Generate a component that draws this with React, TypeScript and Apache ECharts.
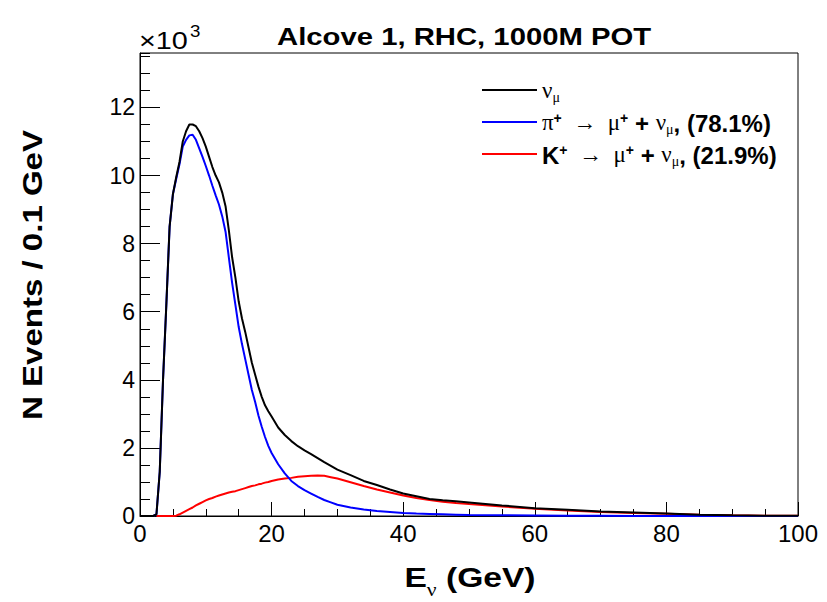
import React, { useEffect, useRef } from 'react';
import * as echarts from 'echarts';

// Neutrino energy (GeV), sample points
const energyGeV = [
  0, 1, 2, 2.5, 3, 3.5, 4, 4.5, 5, 5.5, 6, 6.5, 7, 7.5, 8, 8.5, 9, 9.5, 10, 10.5,
  11, 11.5, 12, 12.5, 13, 13.5, 14, 14.5, 15, 15.5, 16, 16.5, 17, 17.5, 18, 18.5,
  19, 19.5, 20, 21, 22, 23, 24, 25, 26, 27, 28, 29, 30, 32, 34, 36, 38, 40, 42, 44,
  46, 48, 50, 55, 60, 65, 70, 75, 80, 85, 90, 95, 100,
];

// N events / 0.1 GeV, in units of 10^3
const nuMuTotal = [
  0, 0, 0, 0.05, 1.3, 4.0, 6.2, 8.5, 9.45, 9.95, 10.4, 11.0, 11.3, 11.5, 11.5, 11.45, 11.3, 11.1, 10.85, 10.55,
  10.25, 10.0, 9.8, 9.5, 9.1, 8.4, 7.6, 7.0, 6.3, 5.8, 5.4, 4.95, 4.5, 4.15, 3.8, 3.5,
  3.25, 3.08, 2.92, 2.6, 2.38, 2.2, 2.05, 1.93, 1.82, 1.7, 1.58, 1.47, 1.36, 1.2, 1.03, 0.91, 0.78, 0.66, 0.58, 0.5,
  0.46, 0.43, 0.4, 0.31, 0.23, 0.18, 0.13, 0.1, 0.07, 0.04, 0.02, 0.01, 0.005,
];

const fromPion = [
  0, 0, 0, 0.05, 1.3, 4.0, 6.2, 8.5, 9.45, 9.9, 10.33, 10.85, 11.05, 11.18, 11.2, 11.05, 10.8, 10.55, 10.28, 10.0,
  9.7, 9.42, 9.15, 8.8, 8.35, 7.6, 6.85, 6.2, 5.55, 5.05, 4.6, 4.15, 3.7, 3.35, 2.95, 2.62,
  2.32, 2.06, 1.85, 1.52, 1.25, 1.03, 0.88, 0.76, 0.66, 0.56, 0.47, 0.4, 0.33, 0.25, 0.19, 0.15, 0.12, 0.09, 0.07, 0.06,
  0.05, 0.04, 0.03, 0.02, 0.015, 0.01, 0.005, 0, 0, 0, 0, 0, 0,
];

const fromKaon = [
  null, null, null, 0, 0, 0, 0, 0, 0, 0.01, 0.05, 0.1, 0.15, 0.2, 0.25, 0.31, 0.36, 0.41, 0.46, 0.5,
  0.53, 0.57, 0.6, 0.63, 0.66, 0.69, 0.71, 0.73, 0.76, 0.79, 0.82, 0.85, 0.88, 0.9, 0.93, 0.95,
  0.98, 1.0, 1.03, 1.07, 1.1, 1.12, 1.15, 1.17, 1.18, 1.19, 1.18, 1.14, 1.1, 0.99, 0.88, 0.78, 0.69, 0.6, 0.53, 0.47,
  0.42, 0.38, 0.35, 0.28, 0.21, 0.16, 0.12, 0.09, 0.065, 0.04, 0.02, 0.01, 0.005,
];

const xTicks = [0, 20, 40, 60, 80, 100];
const yTicks = [0, 2, 4, 6, 8, 10, 12];

const TITLE = 'Alcove 1, RHC, 1000M POT';
const Y_TITLE = 'N Events / 0.1 GeV';

const NAME_TOTAL = 'νμ';
const NAME_PION = 'π+ → μ+ + νμ, (78.1%)';
const NAME_KAON = 'K+ → μ+ + νμ, (21.9%)';

const legendRich: Record<string, string> = {
  [NAME_TOTAL]: '{g|ν}{sub|μ}',
  [NAME_PION]: '{g|π}{sup|+}{g|  →  μ}{sup|+}{b| + }{g|ν}{sub|μ}{b|, (78.1%)}',
  [NAME_KAON]: '{b|K}{sup|+}{g|  →  μ}{sup|+}{b| + }{g|ν}{sub|μ}{b|, (21.9%)}',
};

const pair = (ys: (number | null)[]) => energyGeV.map((e, i) => [e, ys[i]]);

const SANS = '"Liberation Sans", Arial, Helvetica, sans-serif';
const SERIF = '"Liberation Serif", "DejaVu Serif", serif';

export default function App() {
  const ref = useRef<HTMLDivElement>(null);
  useEffect(() => {
    document.body.style.margin = '0';
    const chart = echarts.init(ref.current!, null, { renderer: 'svg' });
    const grid = { left: 140, right: 29, top: 53, bottom: 86 };
    chart.setOption({
      animation: false,
      backgroundColor: '#ffffff',
      graphic: [
        {
          type: 'text',
          x: 277,
          y: 25,
          scaleX: 1.22,
          style: {
            text: TITLE,
            textAlign: 'left',
            textVerticalAlign: 'top',
            fontFamily: SANS,
            fontWeight: 'bold',
            fontSize: 24,
            fill: '#000',
          },
        },
        {
          type: 'text',
          x: 139,
          y: 29,
          scaleX: 1.2,
          style: {
            text: '×10',
            textAlign: 'left',
            textVerticalAlign: 'top',
            fontFamily: SANS,
            fontSize: 24,
            fill: '#000',
          },
        },
        {
          type: 'text',
          x: 190,
          y: 23,
          scaleX: 1.1,
          style: {
            text: '3',
            textAlign: 'left',
            textVerticalAlign: 'top',
            fontFamily: SANS,
            fontSize: 17,
            fill: '#000',
          },
        },
        {
          type: 'text',
          x: 32,
          y: 275,
          rotation: Math.PI / 2,
          scaleX: 1.18,
          style: {
            text: Y_TITLE,
            textAlign: 'center',
            textVerticalAlign: 'middle',
            fontFamily: SANS,
            fontWeight: 'bold',
            fontSize: 28,
            fill: '#000',
          },
        },
        {
          type: 'text',
          x: 470,
          y: 563,
          scaleX: 1.2,
          style: {
            text: '{e|E}{s|ν}{e| (GeV)}',
            textAlign: 'center',
            textVerticalAlign: 'top',
            rich: {
              e: { fontFamily: SANS, fontWeight: 'bold', fontSize: 28, fill: '#000', lineHeight: 28, verticalAlign: 'top' },
              s: { fontFamily: SERIF, fontSize: 18, fill: '#000', lineHeight: 18, verticalAlign: 'top', padding: [18, 0, 0, 0] },
            },
          },
        },
      ],
      legend: {
        data: [NAME_TOTAL, NAME_PION, NAME_KAON],
        orient: 'vertical',
        left: 477,
        top: 74,
        icon: 'rect',
        itemWidth: 55,
        itemHeight: 2,
        itemGap: 7,
        formatter: (n: string) => legendRich[n] || n,
        textStyle: {
          color: '#000',
          rich: {
            g: { fontFamily: SERIF, fontSize: 23, color: '#000', lineHeight: 22, verticalAlign: 'top' },
            b: { fontFamily: SANS, fontWeight: 'bold', fontSize: 24, color: '#000', lineHeight: 22, verticalAlign: 'top' },
            sup: { fontFamily: SANS, fontWeight: 'bold', fontSize: 14, color: '#000', lineHeight: 14, verticalAlign: 'top' },
            sub: { fontFamily: SERIF, fontSize: 14, color: '#000', lineHeight: 14, verticalAlign: 'top', padding: [11, 0, 0, 0] },
          },
        },
      },
      grid: [
        { ...grid, show: true, borderColor: '#000', borderWidth: 1, backgroundColor: 'transparent' },
        { ...grid, show: false },
      ],
      xAxis: [
        {
          type: 'value',
          gridIndex: 0,
          min: xTicks[0],
          max: xTicks[xTicks.length - 1],
          interval: 20,
          axisLine: { show: true, onZero: false, lineStyle: { color: '#000', width: 1 } },
          axisTick: { show: true, inside: true, length: 14, lineStyle: { color: '#000' } },
          minorTick: { show: true, splitNumber: 4, length: 7, lineStyle: { color: '#000' } },
          splitLine: { show: false },
          axisLabel: { fontFamily: SANS, fontSize: 24, color: '#000', margin: 5 },
        },
        { type: 'value', gridIndex: 1, min: 0, max: 100, show: false },
      ],
      yAxis: [
        {
          type: 'value',
          gridIndex: 0,
          min: yTicks[0],
          max: 13.6,
          interval: 2,
          axisLine: { show: true, onZero: false, lineStyle: { color: '#000', width: 1 } },
          axisTick: { show: true, inside: true, length: 20, lineStyle: { color: '#000' } },
          minorTick: { show: false },
          splitLine: { show: false },
          axisLabel: { fontFamily: SANS, fontSize: 23, color: '#000', margin: 5, showMaxLabel: false },
        },
        {
          type: 'value',
          gridIndex: 1,
          min: 0,
          max: 13.6,
          interval: 0.5,
          position: 'left',
          axisLine: { show: false },
          axisTick: { show: true, inside: true, length: 10, lineStyle: { color: '#000' } },
          axisLabel: { show: false },
          splitLine: { show: false },
        },
      ],
      series: [
        {
          name: NAME_KAON,
          type: 'line',
          data: pair(fromKaon),
          showSymbol: false,
          symbol: 'none',
          lineStyle: { color: '#ff0000', width: 2 },
          itemStyle: { color: '#ff0000' },
          connectNulls: false,
        },
        {
          name: NAME_PION,
          type: 'line',
          data: pair(fromPion),
          showSymbol: false,
          symbol: 'none',
          lineStyle: { color: '#0000ff', width: 2 },
          itemStyle: { color: '#0000ff' },
        },
        {
          name: NAME_TOTAL,
          type: 'line',
          data: pair(nuMuTotal),
          showSymbol: false,
          symbol: 'none',
          lineStyle: { color: '#000000', width: 2 },
          itemStyle: { color: '#000000' },
        },
      ],
    });
    return () => chart.dispose();
  }, []);
  return (
    <div
      ref={ref}
      style={{ position: 'absolute', left: 0, top: 0, width: 827, height: 602, background: '#fff' }}
    />
  );
}
